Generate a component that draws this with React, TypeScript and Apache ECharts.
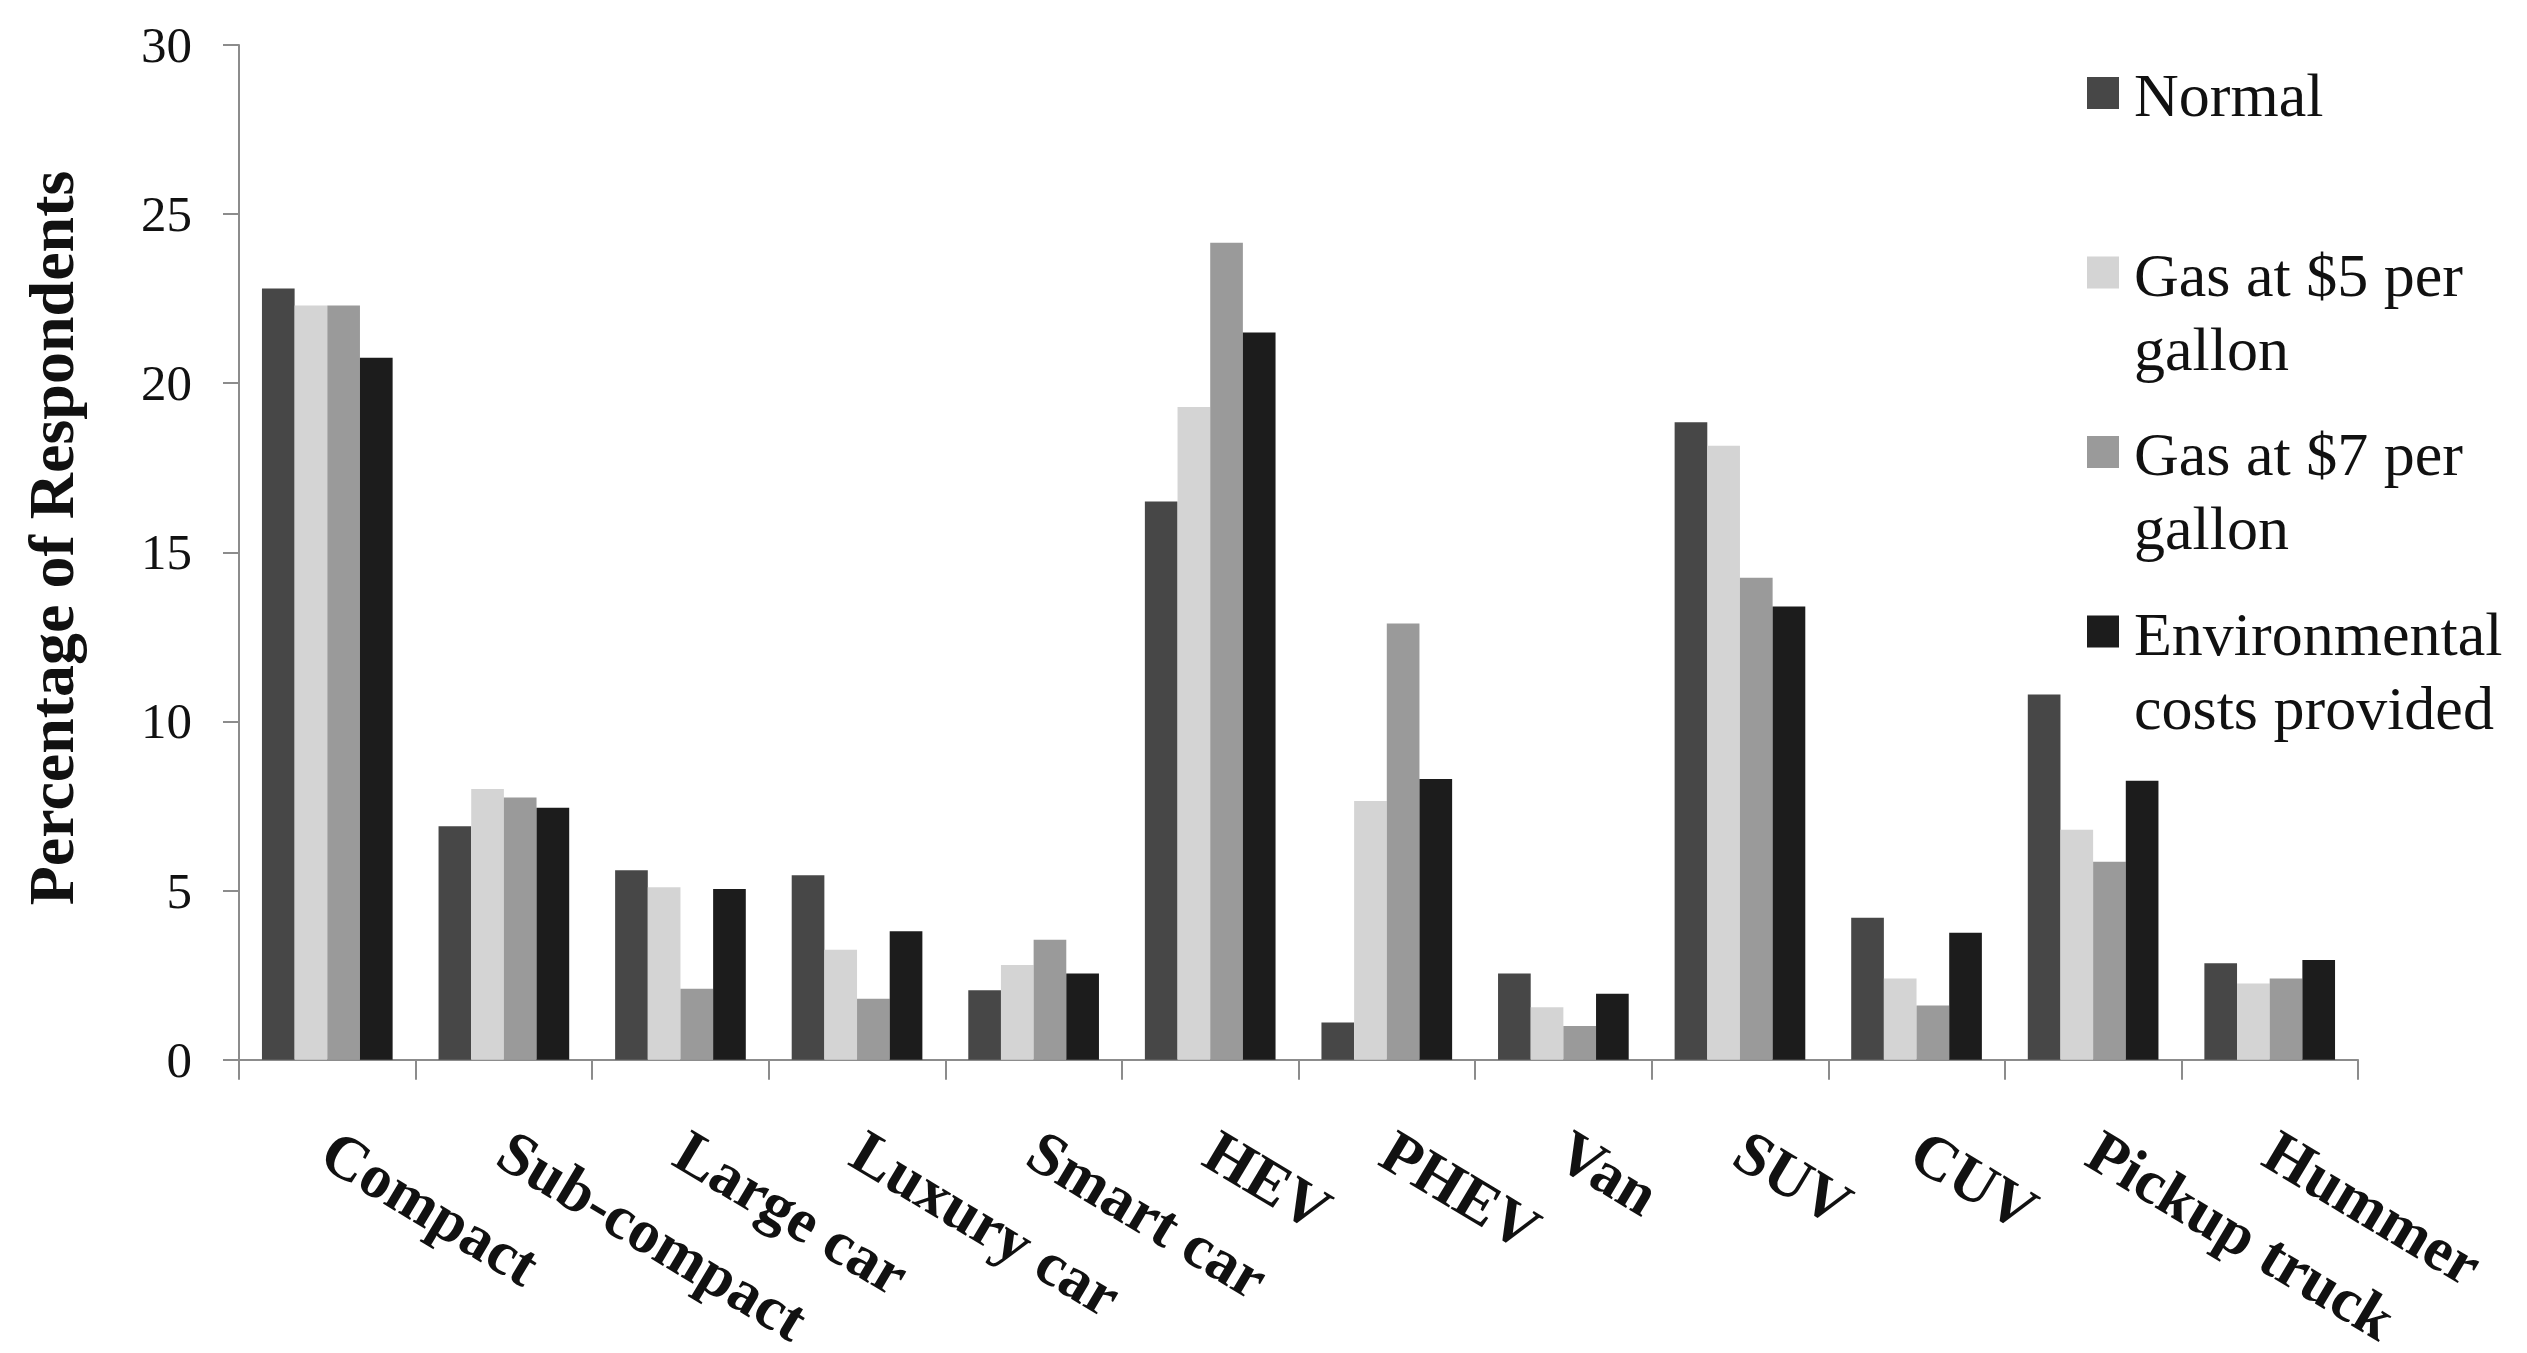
import React, { useEffect, useRef } from "react";
import * as echarts from "echarts";

// Vehicle classes on the category axis
const categories = [
  "Compact",
  "Sub-compact",
  "Large car",
  "Luxury car",
  "Smart car",
  "HEV",
  "PHEV",
  "Van",
  "SUV",
  "CUV",
  "Pickup truck",
  "Hummer",
];

// Percentage of respondents choosing each class, per scenario
const normal = [22.8, 6.9, 5.6, 5.45, 2.05, 16.5, 1.1, 2.55, 18.85, 4.2, 10.8, 2.85];
const gas5 = [22.3, 8.0, 5.1, 3.25, 2.8, 19.3, 7.65, 1.55, 18.15, 2.4, 6.8, 2.25];
const gas7 = [22.3, 7.75, 2.1, 1.8, 3.55, 24.15, 12.9, 1.0, 14.25, 1.6, 5.85, 2.4];
const envCosts = [20.75, 7.45, 5.05, 3.8, 2.55, 21.5, 8.3, 1.95, 13.4, 3.75, 8.25, 2.95];

const seriesNames = [
  "Normal",
  "Gas at $5 per gallon",
  "Gas at $7 per gallon",
  "Environmental costs provided",
];
const legendLabels = [
  "Normal",
  "Gas at $5 per\ngallon",
  "Gas at $7 per\ngallon",
  "Environmental\ncosts provided",
];
const seriesData = [normal, gas5, gas7, envCosts];
const seriesColors = ["#474747", "#d4d4d4", "#9a9a9a", "#1c1c1c"];

const yTickValues = [0, 5, 10, 15, 20, 25, 30];

const SERIF = "'Liberation Serif', 'Times New Roman', serif";
const AXIS_GRAY = "#8c8c8c";

export default function App() {
  const ref = useRef<HTMLDivElement>(null);

  useEffect(() => {
    if (!ref.current) return;
    const chart = echarts.init(ref.current, null, { renderer: "svg" });

    const legendGraphics: any[] = [];
    seriesNames.forEach((name, i) => {
      const top = 77 + i * 179.5;
      legendGraphics.push({
        type: "rect",
        shape: { x: 2087, y: top, width: 32, height: 32 },
        style: { fill: seriesColors[i] },
        silent: true,
      });
      legendGraphics.push({
        type: "text",
        x: 2134,
        y: top - 19,
        style: {
          text: legendLabels[i],
          fontFamily: SERIF,
          fontSize: 62,
          lineHeight: 74,
          fill: "#111",
          verticalAlign: "top",
          align: "left",
        },
        silent: true,
      });
    });

    const option: any = {
      animation: false,
      backgroundColor: "#ffffff",
      textStyle: { fontFamily: SERIF },
      grid: { left: 239, right: 169, top: 45, bottom: 286, containLabel: false },
      xAxis: {
        type: "category",
        data: categories,
        axisLine: { show: true, lineStyle: { color: AXIS_GRAY, width: 2 } },
        axisTick: { show: true, length: 20, lineStyle: { color: AXIS_GRAY, width: 2 } },
        axisLabel: {
          interval: 0,
          rotate: -31,
          margin: 86,
          fontFamily: SERIF,
          fontWeight: "bold",
          fontSize: 62,
          color: "#111",
        },
        splitLine: { show: false },
      },
      yAxis: {
        type: "value",
        min: yTickValues[0],
        max: yTickValues[yTickValues.length - 1],
        interval: 5,
        axisLine: { show: true, lineStyle: { color: AXIS_GRAY, width: 2 } },
        axisTick: { show: true, length: 16, lineStyle: { color: AXIS_GRAY, width: 2 } },
        axisLabel: {
          margin: 47,
          fontFamily: SERIF,
          fontSize: 51,
          color: "#111",
        },
        splitLine: { show: false },
      },
      series: seriesNames.map((name, i) => ({
        name,
        type: "bar",
        data: seriesData[i],
        barGap: "0%",
        barCategoryGap: "26%",
        itemStyle: { color: seriesColors[i] },
      })),
      graphic: [
        {
          type: "text",
          x: 51,
          y: 538,
          rotation: Math.PI / 2,
          style: {
            text: "Percentage of Respondents",
            fontFamily: SERIF,
            fontWeight: "bold",
            fontSize: 64,
            fill: "#111",
            align: "center",
            verticalAlign: "middle",
          },
          silent: true,
        },
        ...legendGraphics,
      ],
    };

    chart.setOption(option);
    return () => chart.dispose();
  }, []);

  return (
    <div
      ref={ref}
      style={{ position: "fixed", left: 0, top: 0, width: 2527, height: 1353, background: "#fff" }}
    />
  );
}
